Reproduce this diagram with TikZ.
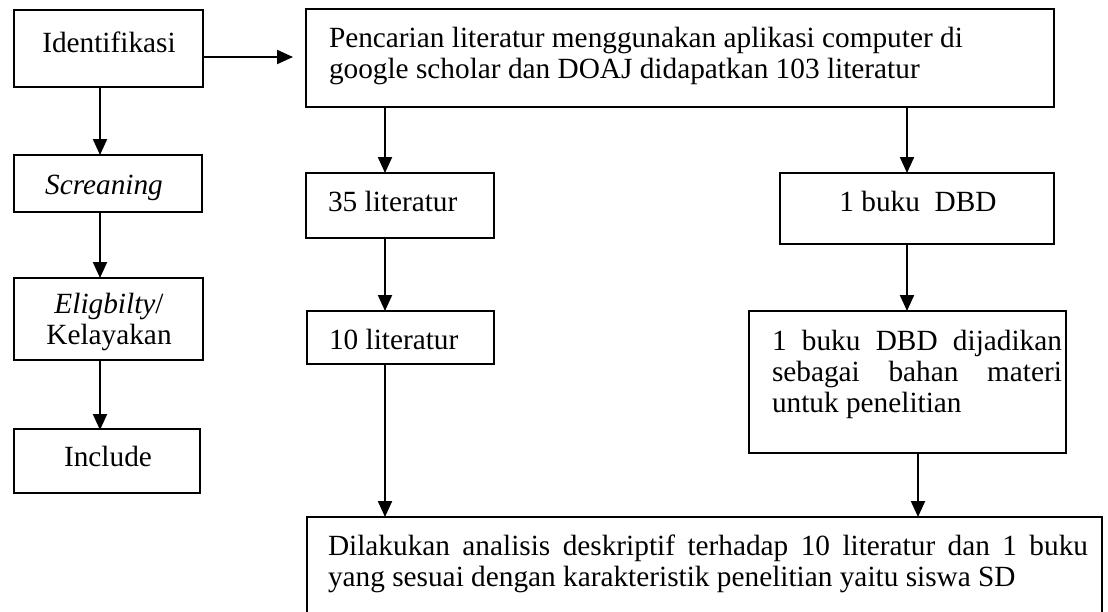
\documentclass[tikz,border=0pt]{standalone}
\usepackage{fontspec}
\setmainfont{Liberation Serif}
\usetikzlibrary{arrows.meta}
\begin{document}
\begin{tikzpicture}[x=1pt,y=-1pt,
  box/.style={draw,line width=2.1pt,inner sep=0pt,outer sep=0pt,anchor=north west},
  txt/.style={inner sep=0pt,outer sep=0pt,font=\fontsize{29.3}{31}\selectfont},
  arr/.style={line width=2.1pt,-{Triangle[length=16pt,width=14pt]}}]
\useasboundingbox (0,0) rectangle (1108,611);
% left column boxes
\node[box,minimum width=189pt,minimum height=77pt] (ident) at (14,10) {};
\node[box,minimum width=188pt,minimum height=57pt] (scr) at (14,155) {};
\node[box,minimum width=189pt,minimum height=82pt] (elig) at (14,278) {};
\node[box,minimum width=186pt,minimum height=64pt] (incl) at (14,429) {};
% right part boxes
\node[box,minimum width=748pt,minimum height=98pt] (pen) at (306,9) {};
\node[box,minimum width=188pt,minimum height=65pt] (l35) at (306,173) {};
\node[box,minimum width=274pt,minimum height=71pt] (bk1) at (780,173) {};
\node[box,minimum width=187pt,minimum height=53pt] (l10) at (307,311) {};
\node[box,minimum width=317pt,minimum height=142pt] (bk2) at (749,311) {};
\node[box,minimum width=795pt,minimum height=123pt] (fin) at (307,517) {};
% texts
\node[txt,anchor=base] (tident) at (109,52) {Identifikasi};
\node[txt,anchor=base] (tscr) at (104,194) {\itshape Screaning};
\node[txt,anchor=base] (telig1) at (109,313) {\itshape Eligbilty\upshape/};
\node[txt,anchor=base] (telig2) at (109,344) {Kelayakan};
\node[txt,anchor=base] (tincl) at (108,466) {Include};
\node[txt,anchor=base west] (tpen) at (329,47) {\parbox[t]{720pt}{\raggedright Pencarian literatur menggunakan aplikasi computer di\\ google scholar dan DOAJ didapatkan 103 literatur}};
\node[txt,anchor=base west] (tl35) at (328,211) {35 literatur};
\node[txt,anchor=base] (tbk1) at (918,211) {1 buku \ DBD};
\node[txt,anchor=base west] (tl10) at (329,349) {10 literatur};
\node[txt,anchor=base west] (tbk2) at (772,350) {\parbox[t]{290pt}{\hbadness=10000 \hfuzz=50pt \parindent=0pt 1 buku DBD dijadikan\linebreak sebagai bahan materi\linebreak untuk penelitian}};
\node[txt,anchor=base west] (tfin) at (328,555) {\parbox[t]{760pt}{\hbadness=10000 \hfuzz=50pt \parindent=0pt Dilakukan analisis deskriptif terhadap 10 literatur dan 1 buku\linebreak yang sesuai dengan karakteristik penelitian yaitu siswa SD}};
% connector columns
\coordinate (hy) at (0,57);
\coordinate (c1) at (100,0);
\coordinate (c2) at (385,0);
\coordinate (c3) at (907,0);
\coordinate (c4) at (918,0);
% connectors
\draw[arr] (ident.east |- hy) -- ([xshift=-13pt]pen.west |- hy);
\draw[arr] (ident.south -| c1) -- (scr.north -| c1);
\draw[arr] (scr.south -| c1) -- (elig.north -| c1);
\draw[arr] (elig.south -| c1) -- ([yshift=-1pt]incl.north -| c1);
\draw[arr] (pen.south -| c2) -- (l35.north -| c2);
\draw[arr] (pen.south -| c3) -- (bk1.north -| c3);
\draw[arr] (l35.south -| c2) -- (l10.north -| c2);
\draw[arr] (bk1.south -| c3) -- (bk2.north -| c3);
\draw[arr] (l10.south -| c2) -- (fin.north -| c2);
\draw[arr] (bk2.south -| c4) -- (fin.north -| c4);
\end{tikzpicture}
\end{document}
